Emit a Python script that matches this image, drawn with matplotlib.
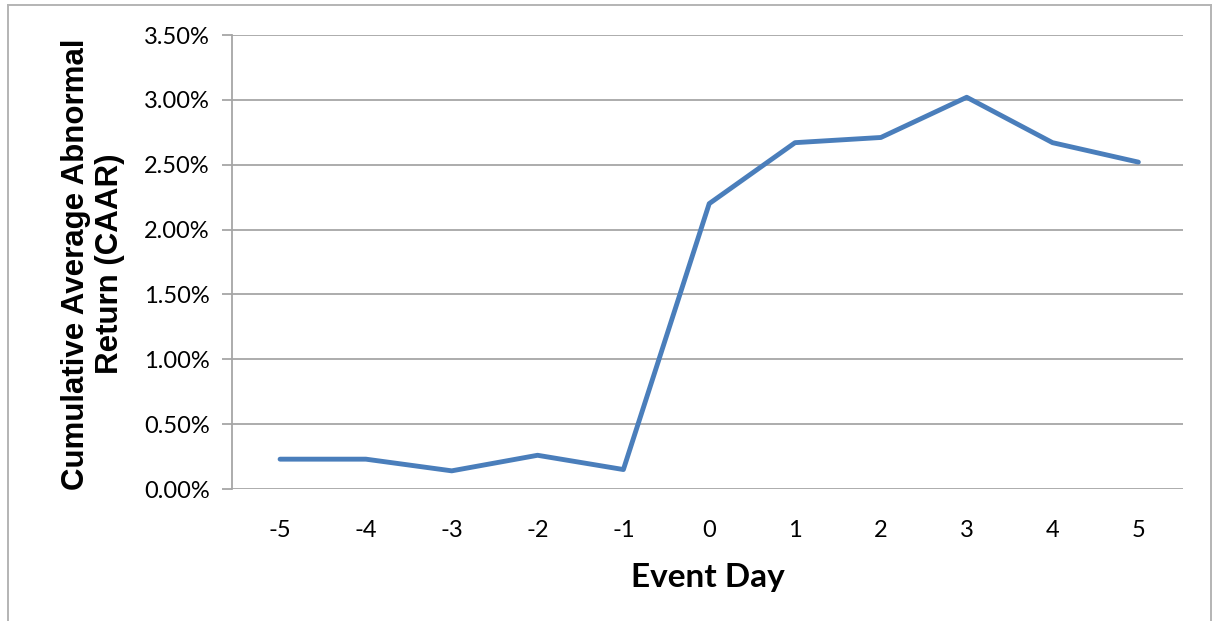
import matplotlib
matplotlib.use("Agg")
import matplotlib.pyplot as plt
from matplotlib.lines import Line2D
from matplotlib.ticker import FuncFormatter

# Event window and cumulative average abnormal return (in percent)
event_days = [-5, -4, -3, -2, -1, 0, 1, 2, 3, 4, 5]
caar_pct = [0.23, 0.23, 0.14, 0.26, 0.15, 2.20, 2.67, 2.71, 3.02, 2.67, 2.52]
y_ticks = [0.0, 0.5, 1.0, 1.5, 2.0, 2.5, 3.0, 3.5]

W, H = 1218, 621
fig = plt.figure(figsize=(W / 100, H / 100), dpi=100)
fig.patch.set_facecolor("white")

# Chart-area frame (top, left and right edges)
frame_col = "#b4b4b4"
fig.add_artist(Line2D([8 / W, 1211 / W], [1 - 5 / H, 1 - 5 / H], color=frame_col, lw=1.4,
                      transform=fig.transFigure))
fig.add_artist(Line2D([8 / W, 8 / W], [0, 1 - 5 / H], color=frame_col, lw=1.4,
                      transform=fig.transFigure))
fig.add_artist(Line2D([1211 / W, 1211 / W], [0, 1 - 5 / H], color=frame_col, lw=1.4,
                      transform=fig.transFigure))

ax = fig.add_axes([232 / W, 1 - 489 / H, (1183 - 232) / W, (489 - 35) / H])
ax.plot(event_days, caar_pct, color="#4a7ebb", lw=3.5, solid_capstyle="round",
        solid_joinstyle="round", zorder=3)

ax.set_xlim(event_days[0] - 0.56, event_days[-1] + 0.52)
ax.set_ylim(y_ticks[0], y_ticks[-1])
ax.set_yticks(y_ticks)
ax.set_xticks(event_days)
ax.set_xticklabels([str(d) for d in event_days])
ax.yaxis.set_major_formatter(FuncFormatter(lambda v, _: f"{v:.2f}%"))

grid_col = "#a6a6a6"
ax.grid(axis="y", color=grid_col, lw=1.3)
ax.set_axisbelow(True)
for side in ("top", "right", "bottom"):
    ax.spines[side].set_visible(False)
ax.spines["left"].set_color(grid_col)
ax.spines["left"].set_linewidth(1.3)

ax.tick_params(axis="y", length=7, width=1.3, color=grid_col, pad=9, labelsize=17)
ax.tick_params(axis="x", length=0, pad=22, labelsize=17)
for lab in ax.get_xticklabels() + ax.get_yticklabels():
    lab.set_fontfamily("Lato")

ax.set_xlabel("Event Day", fontfamily="Lato", fontweight="bold", fontsize=24, labelpad=16)
fig.text(93 / W, 1 - 264 / H, "Cumulative Average Abnormal\nReturn (CAAR)",
         rotation=90, ha="center", va="center", fontfamily="Liberation Sans",
         fontweight="bold", fontsize=22.5, linespacing=1.2)

fig.savefig("out.png", dpi=100)
